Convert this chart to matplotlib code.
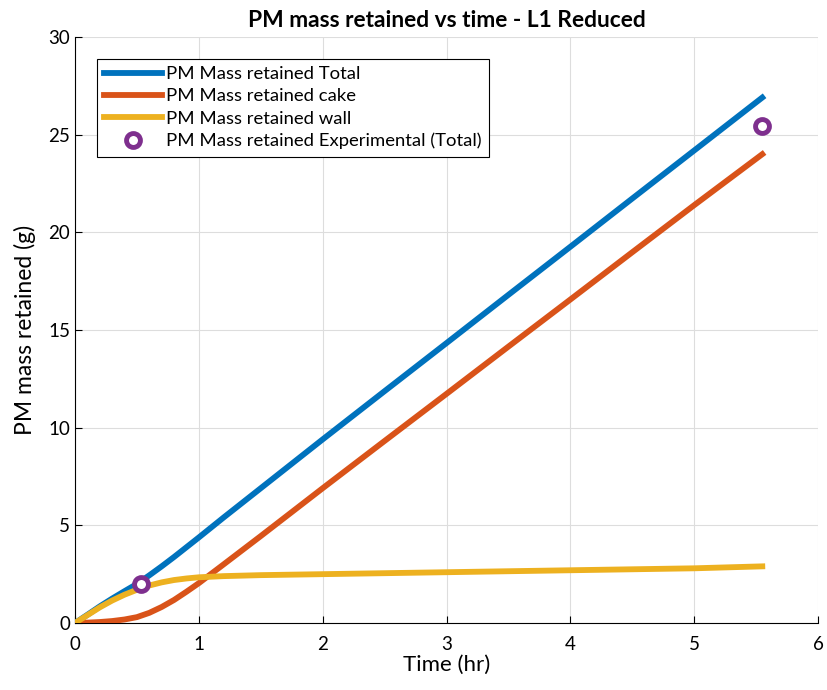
import numpy as np
import matplotlib
matplotlib.use('Agg')
import matplotlib.pyplot as plt

# time (hr)
t = [0, 0.1, 0.2, 0.3, 0.4, 0.5, 0.6, 0.7, 0.8, 0.9, 1.0, 1.2, 1.5,
     2.0, 2.5, 3.0, 3.5, 4.0, 4.5, 5.0, 5.55]
wall = [0, 0.4, 0.8, 1.15, 1.45, 1.7, 1.92, 2.08, 2.2, 2.28, 2.34, 2.4, 2.45,
        2.5, 2.55, 2.6, 2.65, 2.7, 2.75, 2.8, 2.9]
cake = [0, 0.02, 0.05, 0.1, 0.18, 0.3, 0.52, 0.82, 1.18, 1.6, 2.04, 3.0, 4.45,
        6.9, 9.32, 11.73, 14.15, 16.56, 18.98, 21.39, 24.0]
total = [0, 0.42, 0.85, 1.25, 1.63, 2.0, 2.44, 2.9, 3.38, 3.88, 4.38, 5.4, 6.9,
         9.4, 11.87, 14.33, 16.8, 19.26, 21.73, 24.19, 26.9]
exp_t = [0.53, 5.55]
exp_m = [2.0, 25.45]

plt.rcParams['font.family'] = ['Lato', 'DejaVu Sans']
fig = plt.figure(figsize=(8.27, 6.9), dpi=100)
ax = fig.add_axes([75/827, 67/690, 743/827, 586/690])

ax.plot(t, total, color='#0072BD', lw=4.2, label='PM Mass retained Total', zorder=3)
ax.plot(t, cake, color='#D95319', lw=4.2, label='PM Mass retained cake', zorder=3)
ax.plot(t, wall, color='#EDB120', lw=4.2, label='PM Mass retained wall', zorder=3)
ax.plot(exp_t, exp_m, 'o', ms=10, mfc='white', mec='#7E2F8E', mew=3.5,
        label='PM Mass retained Experimental (Total)', zorder=4)

ax.set_xlim(0, 6)
ax.set_ylim(0, 30)
ax.set_xticks(range(0, 7))
ax.set_yticks(range(0, 31, 5))
ax.grid(True, color='#dddddd', lw=0.8)
ax.set_axisbelow(True)
for s in ['top', 'right']:
    ax.spines[s].set_visible(False)
ax.tick_params(direction='in', labelsize=13.5, length=5)
ax.tick_params(axis='x', pad=9)
ax.set_xlabel('Time (hr)', fontsize=16, labelpad=2)
ax.set_ylabel('PM mass retained (g)', fontsize=16.5, labelpad=9)
ax.set_title('PM mass retained vs time - L1 Reduced', fontsize=16.4, fontweight='bold', pad=7)

leg = ax.legend(loc='upper left', bbox_to_anchor=(97/827, 1-59/690),
                bbox_transform=fig.transFigure, fontsize=13.3, handlelength=3.1,
                fancybox=False, edgecolor='black', framealpha=1, borderaxespad=0,
                borderpad=0.4, labelspacing=0.33, handletextpad=0.25)
leg.get_frame().set_linewidth(0.8)

fig.savefig('out.png', dpi=100)
